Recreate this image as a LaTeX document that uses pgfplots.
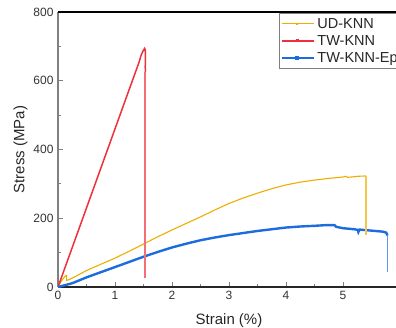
\documentclass[border=0pt]{standalone}
\usepackage{pgfplots}
\pgfplotsset{compat=1.18}
\usepackage{fontspec}
\setmainfont{Liberation Sans}
\definecolor{cor}{RGB}{240,172,0}
\definecolor{cred}{RGB}{238,48,58}
\definecolor{cblue}{RGB}{28,108,222}
\definecolor{spg}{RGB}{128,128,128}
\begin{document}
\begin{tikzpicture}[x=1pt,y=1pt]
\path[use as bounding box, clip] (0,0) rectangle (396,327);
\begin{axis}[
  at={(58pt,40pt)}, anchor=south west,
  scale only axis, width=342pt, height=275pt,
  xmin=0, xmax=6, ymin=0, ymax=800,
  xtick={0,1,2,3,4,5}, ytick={0,200,400,600,800},
  minor x tick num=1, minor y tick num=1,
  tick align=inside,
  major tick length=5pt, minor tick length=3pt,
  tick style={spg, line width=0.8pt},
  xtick pos=bottom, ytick pos=left,
  axis line style={line width=1pt},
  separate axis lines,
  x axis line style={black!85, line width=1.3pt},
  y axis line style={spg, line width=1.8pt},
  /pgf/number format/assume math mode=true,
  ticklabel style={font=\fontsize{12}{14}\selectfont, text=black!80},
  label style={font=\fontsize{15}{17}\selectfont, text=black!85},
  xlabel={Strain (\%)}, ylabel={Stress (MPa)},
  xlabel style={at={(rel axis cs:0.5,0)}, anchor=north, yshift=-23pt},
  ylabel style={at={(rel axis cs:0,0.5)}, anchor=south, yshift=27pt},
  yticklabel style={xshift=-1pt},
  xticklabel style={yshift=-1pt},
  legend style={at={(rel axis cs:0.645,0.996)}, anchor=north west,
    draw=spg, line width=0.9pt, font=\fontsize{14.5}{16}\selectfont,
    inner xsep=2pt, inner ysep=2.5pt, row sep=1.6pt, text=black!85},
  legend cell align=left,
  legend image code/.code={\draw[#1, opacity=0.7, line width=1.2pt] (0pt,0pt) -- (30pt,0pt);
     \fill[#1] (14.4pt,-0.7pt) rectangle (15.6pt,0.7pt);
     \path (0pt,0pt) -- (32pt,0pt);},
]
\draw[black, line width=1.1pt] (rel axis cs:0,1) -- (rel axis cs:1,1);
\addplot[cor, line width=1.1pt] coordinates {
(0,0) (0.07,20) (0.14,34) (0.15,34) (0.15,19) (0.2,22) (0.3,30) (0.5,48) (0.75,66) (1,84) (1.25,104) (1.5,125) (1.75,146) (2,166) (2.25,185) (2.5,204) (2.75,224) (3,243) (3.25,259) (3.5,273) (3.75,286) (4,297) (4.25,305) (4.5,311) (4.75,316) (5,320) (5.05,322) (5.08,319) (5.15,320) (5.25,322) (5.4,323)
};
\addlegendentry{UD-KNN}
\addplot[cred, line width=1.5pt] coordinates {
(0,0) (0.2,92) (0.4,184) (0.6,276) (0.8,368) (1.0,460) (1.2,552) (1.42,653) (1.46,675) (1.49,686) (1.52,694) (1.53,690) (1.535,665) (1.53,640) (1.535,626)
};
\addlegendentry{TW-KNN}
\addplot[cblue, line width=2.4pt] coordinates {
(0,0) (0.25,11) (0.5,28) (0.75,43) (1,58) (1.25,73) (1.5,88) (1.75,102) (2,115) (2.25,126) (2.5,136) (2.75,144) (3,151) (3.25,157) (3.5,163) (3.75,168) (4,173) (4.25,176) (4.5,178) (4.7,180) (4.85,180) (4.88,175) (5,171) (5.2,168) (5.26,166) (5.27,160) (5.29,167) (5.5,164) (5.7,161) (5.76,158) (5.78,150)
};
\addlegendentry{TW-KNN-Ep}
\addplot[cor!70, line width=1.6pt, forget plot] coordinates {(5.4,323) (5.4,150)};
\addplot[cred!70, line width=2pt, forget plot] coordinates {(1.535,626) (1.535,25)};
\addplot[cblue!70, line width=1.8pt, forget plot] coordinates {(5.78,150) (5.78,44)};
\end{axis}
\end{tikzpicture}
\end{document}
